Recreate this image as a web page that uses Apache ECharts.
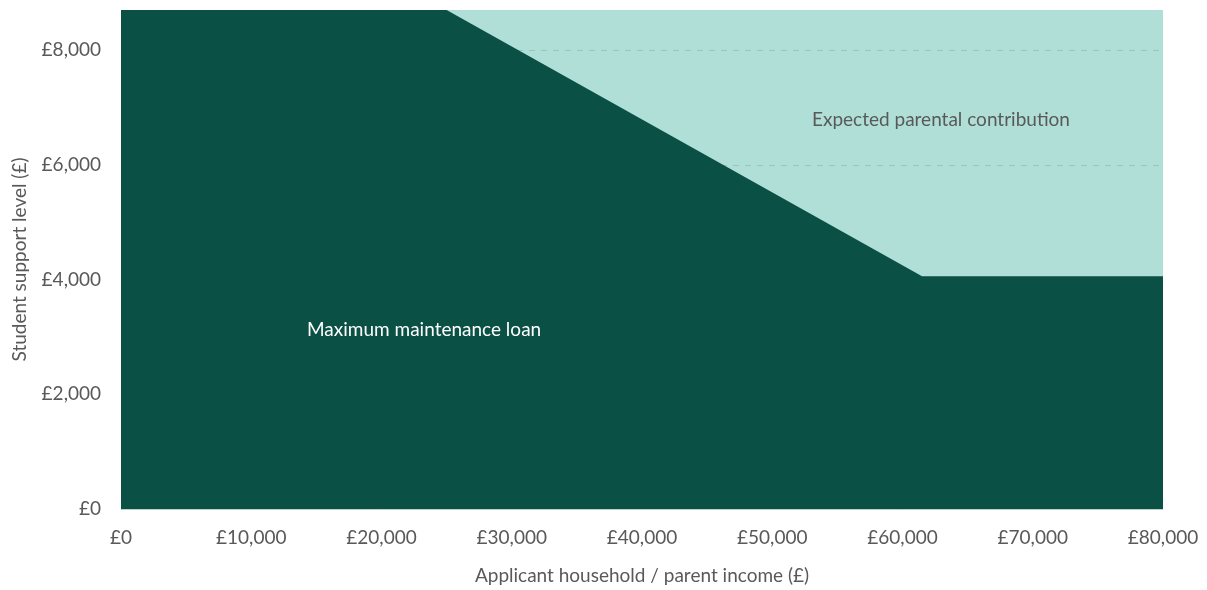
<!DOCTYPE html>
<html>
<head>
<meta charset="utf-8">
<script src="https://cdn.jsdelivr.net/npm/echarts@6/dist/echarts.min.js"></script>
<style>
html,body{margin:0;padding:0;background:#fff;}
#chart{width:1207px;height:590px;}
</style>
</head>
<body>
<div id="chart"></div>
<script>
// Data
const incomeBreaks = [0, 25000, 61500, 80000];
const maintenanceLoan = [8700, 8700, 4060, 4060];
const totalSupport = [8700, 8700, 8700, 8700];
const yTicks = [0, 2000, 4000, 6000, 8000];
const xTicks = [0, 10000, 20000, 30000, 40000, 50000, 60000, 70000, 80000];
const labelLoan = 'Maximum maintenance loan';
const labelParent = 'Expected parental contribution';

const fmt = v => '£' + Number(v).toLocaleString('en-GB');
const font = 'Lato, "Noto Sans", sans-serif';
const gray = '#595959';
const fs = 19;

const chart = echarts.init(document.getElementById('chart'), null, {renderer: 'canvas'});
chart.setOption({
  animation: false,
  backgroundColor: '#ffffff',
  grid: {left: 121, right: 44, top: 10, bottom: 80, containLabel: false},
  xAxis: {
    type: 'value', min: 0, max: 80000, interval: 10000, z: 4,
    name: 'Applicant household / parent income (£)',
    nameLocation: 'middle', nameGap: 57,
    nameTextStyle: {color: gray, fontSize: fs, fontFamily: font},
    axisLine: {show: true, lineStyle: {color: '#b8d3cf', width: 1}},
    axisTick: {show: false},
    splitLine: {show: false},
    axisLabel: {formatter: fmt, color: gray, fontSize: fs, fontFamily: font, margin: 19}
  },
  yAxis: {
    type: 'value', min: 0, max: 8700, interval: 2000, z: 2,
    name: 'Student support level (£)',
    nameLocation: 'middle', nameGap: 92,
    nameTextStyle: {color: gray, fontSize: fs, fontFamily: font},
    axisLine: {show: false}, axisTick: {show: false},
    splitLine: {show: true, showMaxLine: false, lineStyle: {color: '#96c8c1', type: [6, 6], width: 1}},
    axisLabel: {formatter: fmt, color: gray, fontSize: fs, fontFamily: font, margin: 20, showMaxLabel: false}
  },
  series: [
    {
      name: labelParent, type: 'line', z: 1,
      data: incomeBreaks.map((x, i) => [x, totalSupport[i]]),
      symbol: 'none', lineStyle: {width: 0},
      areaStyle: {color: '#b0dfd8', opacity: 1}
    },
    {
      name: labelLoan, type: 'line', z: 3,
      data: incomeBreaks.map((x, i) => [x, maintenanceLoan[i]]),
      symbol: 'none', lineStyle: {width: 0},
      areaStyle: {color: '#0b5045', opacity: 1}
    }
  ],
  graphic: [
    {type: 'text', left: 307, top: 320, z: 10,
     style: {text: labelLoan, fill: '#ffffff', font: fs + 'px ' + font}},
    {type: 'text', left: 812, top: 110, z: 10,
     style: {text: labelParent, fill: gray, font: fs + 'px ' + font}}
  ]
});
</script>
</body>
</html>
